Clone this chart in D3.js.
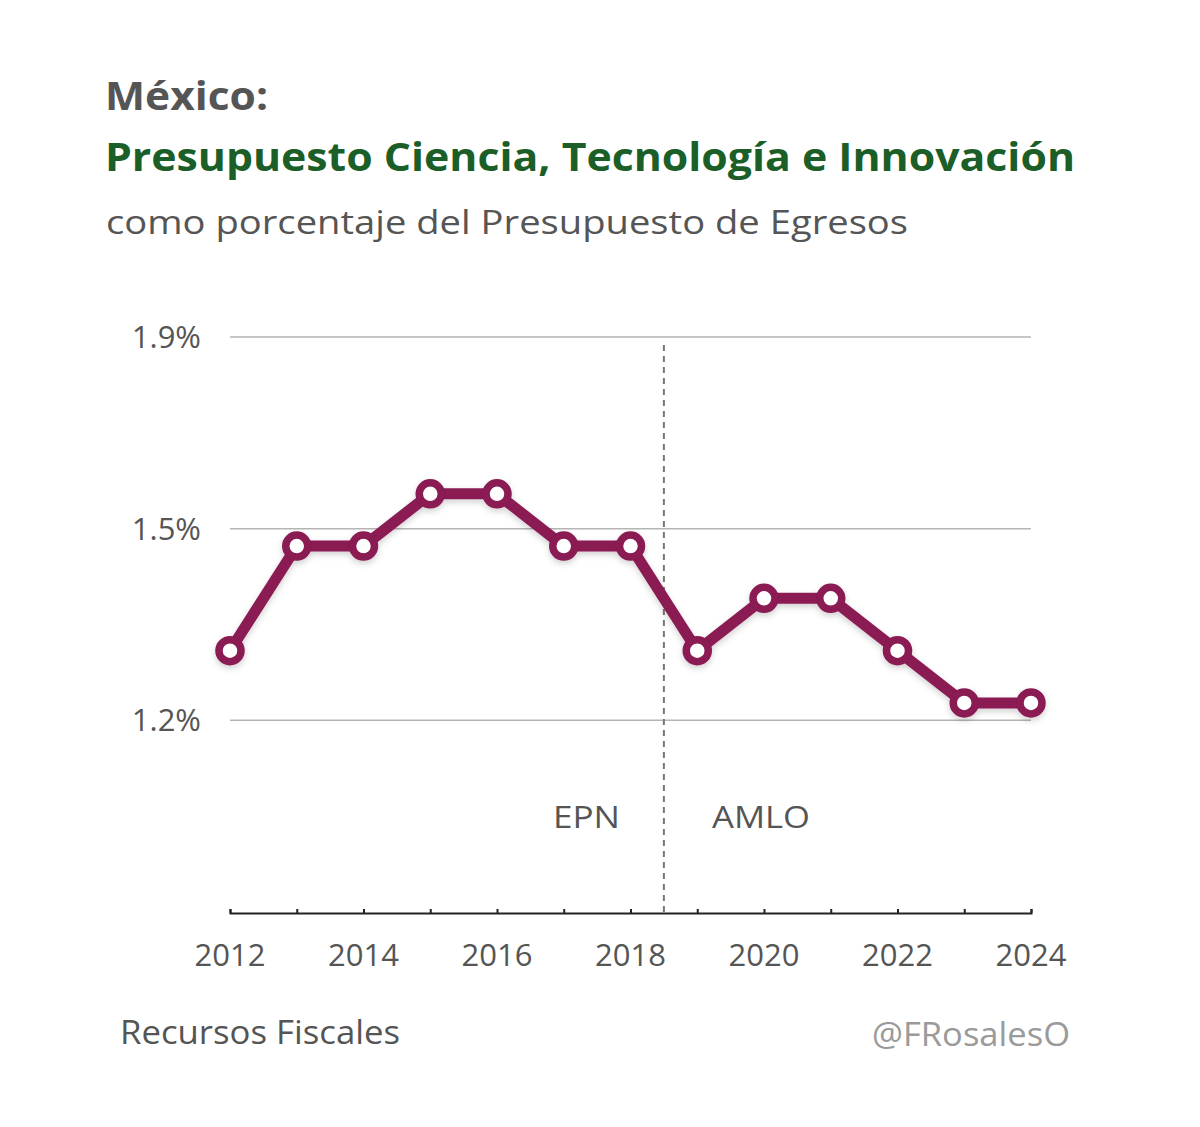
<!DOCTYPE html>
<html><head><meta charset="utf-8">
<script src="https://cdn.jsdelivr.net/npm/d3@7"></script>
<style>body{margin:0;background:#fff}svg{display:block}text{font-family:"Open Sans","Noto Sans",sans-serif}</style>
</head><body>
<script>
const years = [2012,2013,2014,2015,2016,2017,2018,2019,2020,2021,2022,2023,2024];
const values = [1.3,1.5,1.5,1.6,1.6,1.5,1.5,1.3,1.4,1.4,1.3,1.2,1.2];
const yTickValues = [1.9, 1.5333, 1.1667];
const yTickLabels = ["1.9%","1.5%","1.2%"];
const xTickLabelYears = [2012,2014,2016,2018,2020,2022,2024];
const periodSplit = 2018.5;
const periodLabels = ["EPN","AMLO"];

const W=1200,H=1127;
const svg=d3.select("body").append("svg").attr("width",W).attr("height",H);
const defs=svg.append("defs");
const f=defs.append("filter").attr("id","sh").attr("x","-10%").attr("y","-10%").attr("width","120%").attr("height","130%");
f.append("feDropShadow").attr("dx",0).attr("dy",3).attr("stdDeviation",3).attr("flood-color","#000").attr("flood-opacity",0.18);

function txt(xp,yp,s,size,fill,opts={}){
  const t=svg.append("text").attr("x",xp).attr("y",yp).attr("font-size",size).attr("fill",fill).text(s);
  if(opts.bold) t.attr("font-weight",700);
  if(opts.anchor) t.attr("text-anchor",opts.anchor);
  if(opts.len) t.attr("textLength",opts.len).attr("lengthAdjust","spacingAndGlyphs");
  return t;
}
txt(105,110,"México:",40,"#555",{bold:true,len:163});
txt(105,171,"Presupuesto Ciencia, Tecnología e Innovación",40,"#1b5e27",{bold:true,len:970});
txt(106,234,"como porcentaje del Presupuesto de Egresos",32,"#555",{len:802});

const x=d3.scaleLinear().domain([2012,2024]).range([230,1031]);
const y=d3.scaleLinear().domain([0.8,1.9]).range([912,337]);

// gridlines
svg.append("g").selectAll("line").data(yTickValues).join("line")
  .attr("x1",230).attr("x2",1031).attr("y1",d=>y(d)).attr("y2",d=>y(d))
  .attr("stroke","#b5b5b5").attr("stroke-width",1.5);
svg.append("g").selectAll("text").data(yTickValues).join("text")
  .attr("x",201).attr("y",d=>y(d)+11).attr("text-anchor","end")
  .attr("font-size",31).attr("fill","#555").text((d,i)=>yTickLabels[i]);

// x axis
const xAxis=d3.axisBottom(x).tickValues(years).tickSize(-4).tickFormat("");
const gx=svg.append("g").attr("transform","translate(0,913)").call(xAxis);
gx.select(".domain").attr("stroke","#222").attr("stroke-width",2);
gx.selectAll(".tick line").attr("stroke","#222").attr("stroke-width",2);
svg.append("g").selectAll("text").data(xTickLabelYears).join("text")
  .attr("x",d=>x(d)).attr("y",966).attr("text-anchor","middle")
  .attr("font-size",31).attr("fill","#555").text(d=>d);

// split line
svg.append("line").attr("x1",x(periodSplit)).attr("x2",x(periodSplit)).attr("y1",345).attr("y2",912)
  .attr("stroke","#777").attr("stroke-width",2).attr("stroke-dasharray","6,5");
txt(553,828,periodLabels[0],31,"#555",{len:67});
txt(712,828,periodLabels[1],31,"#555",{len:98});

// line
const data=years.map((yr,i)=>({yr,v:values[i]}));
const g=svg.append("g").attr("filter","url(#sh)");
g.append("path").datum(data).attr("d",d3.line().x(d=>x(d.yr)).y(d=>y(d.v)))
  .attr("fill","none").attr("stroke","#8a1a53").attr("stroke-width",11).attr("stroke-linejoin","round");
g.selectAll("circle").data(data).join("circle").attr("cx",d=>x(d.yr)).attr("cy",d=>y(d.v)).attr("r",11)
  .attr("fill","#fff").attr("stroke","#8a1a53").attr("stroke-width",7.5);

txt(120,1044,"Recursos Fiscales",32,"#555",{len:280});
txt(872,1046,"@FRosalesO",32,"#9a9a9a",{len:198});
</script>
</body></html>
